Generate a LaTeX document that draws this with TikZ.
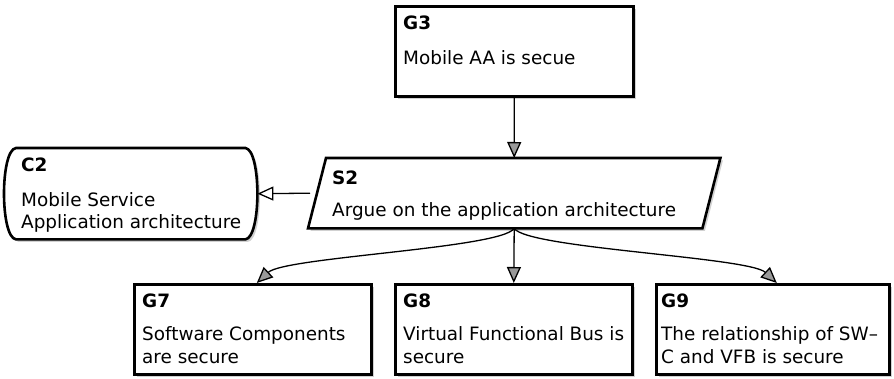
\documentclass[tikz,border=0pt]{standalone}
\usepackage{fontspec}
\setmainfont{DejaVu Sans}
\usetikzlibrary{arrows.meta,shadows,calc}

\tikzset{
  softshadow/.style={drop shadow={shadow xshift=2.5pt,shadow yshift=-2.5pt,fill=black!18,opacity=1}},
  goalbox/.style={draw, line width=2.6pt, fill=white, inner sep=0pt, anchor=north west, softshadow},
  frame/.style={inner sep=0pt, anchor=north west},
  outline/.style={draw, line width=2.6pt, fill=white, softshadow},
  lbl/.style={anchor=base west, inner sep=0pt, font=\fontsize{18.4}{21}\selectfont\bfseries},
  txt/.style={anchor=base west, inner sep=0pt, font=\fontsize{18.4}{21}\selectfont},
  supported/.style={line width=1.3pt, -{Triangle[length=16pt,width=14pt,fill=black!40]}},
  incontext/.style={line width=1.3pt, -{Triangle[open,length=16pt,width=14pt,fill=white]}},
}

\begin{document}
\begin{tikzpicture}[x=1pt,y=-1pt]
\useasboundingbox (0,0) rectangle (894,379);

% goal G3
\node[goalbox, minimum width=238pt, minimum height=90pt] (g3) at (394,5) {};

% strategy S2 (parallelogram drawn on an invisible frame)
\node[frame, minimum width=412pt, minimum height=70pt] (s2) at (308,158) {};
\path[outline] ($(s2.north west)+(18,0)$) -- (s2.north east)
  -- ($(s2.south east)-(18,0)$) -- (s2.south west) -- cycle;

% context C2 (rounded-side box)
\node[frame, minimum width=253pt, minimum height=91pt] (c2) at (4,148) {};
\path[outline] ($(c2.north west)+(12,0)$) -- ($(c2.north east)-(12,0)$)
  .. controls ($(c2.north east)+(4,2)$) and ($(c2.south east)+(4,-2)$) .. ($(c2.south east)-(12,0)$)
  -- ($(c2.south west)+(12,0)$)
  .. controls ($(c2.south west)+(-4,-2)$) and ($(c2.north west)+(-4,2)$) .. cycle;

% sub-goals
\node[goalbox, minimum width=237pt, minimum height=90pt] (g7) at (133,283) {};
\node[goalbox, minimum width=237pt, minimum height=90pt] (g8) at (394,283) {};
\node[goalbox, minimum width=233pt, minimum height=90pt] (g9) at (655,283) {};

% texts
\node[lbl] (g3l) at (403,30) {G3};
\node[txt] (g3b) at (403,65) {Mobile AA is secue};

\node[lbl] (s2l) at (332,185) {S2};
\node[txt] (s2b) at (332,217) {Argue on the application architecture};

\node[lbl] (c2l) at (21,172) {C2};
\node[txt] (c2a) at (21,207) {Mobile Service};
\node[txt] (c2b) at (21,229) {Application architecture};

\node[lbl] (g7l) at (142,308) {G7};
\node[txt] (g7a) at (142,341) {Software Components};
\node[txt] (g7b) at (142,363) {are secure};

\node[lbl] (g8l) at (403,308) {G8};
\node[txt] (g8a) at (403,341) {Virtual Functional Bus is};
\node[txt] (g8b) at (403,363) {secure};

\node[lbl] (g9l) at (661,308) {G9};
\node[txt] (g9a) at (661,341) {The relationship of SW--};
\node[txt] (g9b) at (661,363) {C and VFB is secure};

% connectors
\draw[supported] (g3.south) -- (s2.north);
\draw[incontext] ([xshift=2pt]s2.west) -- (c2.east);
\draw[supported] (s2.south) .. controls ($(s2.south)+(-13,20)$) and ($([xshift=4pt]g7.north)+(28,-26)$) .. ([xshift=4pt]g7.north);
\draw[supported] (s2.south) -- (g8.north);
\draw[supported] (s2.south) .. controls ($(s2.south)+(13,20)$) and ($([xshift=4pt]g9.north)+(-28,-26)$) .. ([xshift=4pt]g9.north);
\end{tikzpicture}
\end{document}
